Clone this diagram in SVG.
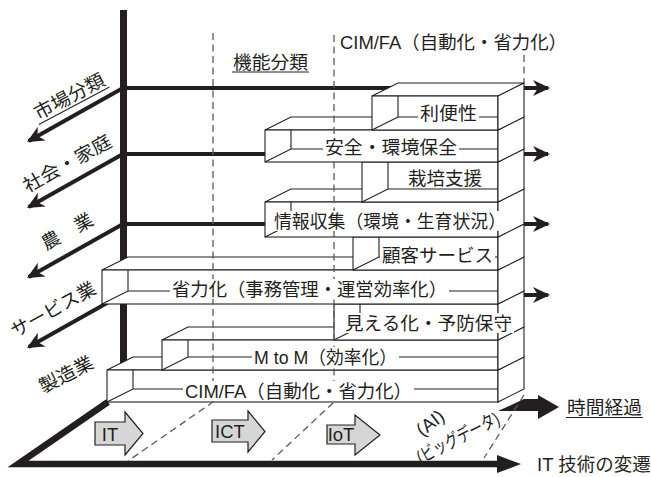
<svg xmlns="http://www.w3.org/2000/svg" width="651" height="477" viewBox="0 0 651 477">
<style>
text{font-family:"Liberation Sans","Noto Sans CJK JP",sans-serif;font-size:18.5px;fill:#231f20}
.face{fill:#fff;stroke:#231f20;stroke-width:1.1;stroke-linejoin:miter}
.ln{fill:none;stroke:#231f20;stroke-width:1.1}
.tbg{fill:#fff}
.thick{fill:none;stroke:#231f20;stroke-width:4}
.dash{fill:none;stroke:#5a5a5a;stroke-width:1.3;stroke-dasharray:7 4.5}
.blk{fill:#d6d6d6;stroke:#231f20;stroke-width:1.2}
</style>
<defs>
<marker id="ah" markerUnits="userSpaceOnUse" viewBox="-16 -9 18 18" markerWidth="18" markerHeight="18" refX="0" refY="0" orient="auto" overflow="visible">
<path d="M2,0 L-15,-8 L-10,0 L-15,8 Z" fill="#231f20"/>
</marker>
<mask id="dm" maskUnits="userSpaceOnUse" x="0" y="0" width="651" height="477">
<rect x="0" y="0" width="651" height="477" fill="#fff"/>
<rect x="323" y="137" width="136" height="20" fill="#000"/>
<rect x="272" y="211" width="236" height="20" fill="#000"/>
<rect x="170" y="279" width="279" height="20" fill="#000"/>
<rect x="252" y="347" width="147" height="20" fill="#000"/>
<rect x="183" y="381" width="231" height="20" fill="#000"/>
</mask>
</defs>
<rect width="651" height="477" fill="#fff"/>

<g id="connectors">
<line x1="123.5" y1="10" x2="123.5" y2="366" stroke="#231f20" stroke-width="7"/>
<line class="thick" x1="123" y1="88" x2="548" y2="88" marker-end="url(#ah)"/>
<line class="thick" x1="123" y1="154" x2="548" y2="154" marker-end="url(#ah)"/>
<line class="thick" x1="123" y1="224" x2="548" y2="224" marker-end="url(#ah)"/>
<line class="thick" x1="123" y1="295" x2="548" y2="295" marker-end="url(#ah)"/>
<line class="thick" x1="123" y1="88" x2="28.7" y2="141" marker-end="url(#ah)"/>
<line class="thick" x1="123" y1="154" x2="28.7" y2="207" marker-end="url(#ah)"/>
<line class="thick" x1="123" y1="224" x2="28.7" y2="277" marker-end="url(#ah)"/>
<line class="thick" x1="123" y1="294" x2="28.7" y2="347" marker-end="url(#ah)"/>
<polyline points="108,402 18,464 500,464" fill="none" stroke="#231f20" stroke-width="6.5" stroke-linejoin="miter"/>
<polygon points="497,455 521,464 497,473" fill="#231f20"/>
<polygon points="498,411 524,399 538,399 538,395 559,407 538,419 538,411" fill="#231f20"/>
</g>

<g id="n9-cim">
<polygon class="face" points="107,370 133,357 524,357 498,370"/>
<rect class="face" x="107" y="370" width="391" height="32"/>
<polygon class="face" points="498,370 524,357 524,389 498,402"/>
<path class="ln" d="M133,370 V389 M107,402 L133,389 H498"/>
<rect class="tbg" x="183" y="381" width="231" height="20"/>
<text x="185" y="398" textLength="227" lengthAdjust="spacingAndGlyphs">CIM/FA（自動化・省力化）</text>
</g>
<g id="n8-mtom">
<polygon class="face" points="162,340 188,327 524,327 498,340"/>
<rect class="face" x="162" y="340" width="336" height="30"/>
<polygon class="face" points="498,340 524,327 524,357 498,370"/>
<path class="ln" d="M188,340 V357 M162,370 L188,357 H498"/>
<rect class="tbg" x="252" y="347" width="147" height="20"/>
<text x="254" y="364" textLength="143" lengthAdjust="spacingAndGlyphs">M to M（効率化）</text>
</g>
<g id="n7-mieruka">
<polygon class="face" points="334,304 360,291 524,291 498,304"/>
<rect class="face" x="334" y="304" width="164" height="36"/>
<polygon class="face" points="498,304 524,291 524,327 498,340"/>
<path class="ln" d="M360,304 V327 M334,340 L360,327 H498"/>
<rect class="tbg" x="343" y="313" width="171" height="20"/>
<text x="345" y="330" textLength="167" lengthAdjust="spacingAndGlyphs">見える化・予防保守</text>
</g>
<g id="n6-shoryoku">
<polygon class="face" points="102,270 128,257 524,257 498,270"/>
<rect class="face" x="102" y="270" width="396" height="34"/>
<polygon class="face" points="498,270 524,257 524,291 498,304"/>
<path class="ln" d="M128,270 V291 M102,304 L128,291 H498"/>
<rect class="tbg" x="170" y="279" width="279" height="20"/>
<text x="172" y="296" textLength="275" lengthAdjust="spacingAndGlyphs">省力化（事務管理・運営効率化）</text>
</g>
<g id="n5-kokyaku">
<polygon class="face" points="353,237 379,224 524,224 498,237"/>
<rect class="face" x="353" y="237" width="145" height="33"/>
<polygon class="face" points="498,237 524,224 524,257 498,270"/>
<path class="ln" d="M379,237 V257 M353,270 L379,257 H498"/>
<rect class="tbg" x="380" y="245" width="115" height="20"/>
<text x="382" y="262" textLength="111" lengthAdjust="spacingAndGlyphs">顧客サービス</text>
</g>
<g id="n4-joho">
<polygon class="face" points="265,202 291,189 524,189 498,202"/>
<rect class="face" x="265" y="202" width="233" height="35"/>
<polygon class="face" points="498,202 524,189 524,224 498,237"/>
<path class="ln" d="M291,202 V224 M265,237 L291,224 H498"/>
<rect class="tbg" x="272" y="211" width="236" height="20"/>
<text x="274" y="228" textLength="232" lengthAdjust="spacingAndGlyphs">情報収集（環境・生育状況）</text>
</g>
<g id="n3-saibai">
<polygon class="face" points="362,162 388,149 524,149 498,162"/>
<rect class="face" x="362" y="162" width="136" height="40"/>
<polygon class="face" points="498,162 524,149 524,189 498,202"/>
<path class="ln" d="M388,162 V189 M362,202 L388,189 H498"/>
<text x="408" y="185" textLength="74" lengthAdjust="spacingAndGlyphs">栽培支援</text>
</g>
<g id="n2-anzen">
<polygon class="face" points="265,130 291,117 524,117 498,130"/>
<rect class="face" x="265" y="130" width="233" height="32"/>
<polygon class="face" points="498,130 524,117 524,149 498,162"/>
<path class="ln" d="M291,130 V149 M265,162 L291,149 H498"/>
<rect class="tbg" x="323" y="137" width="136" height="20"/>
<text x="325" y="154" textLength="132" lengthAdjust="spacingAndGlyphs">安全・環境保全</text>
</g>
<g id="n1-ribensei">
<polygon class="face" points="372,96 398,83 524,83 498,96"/>
<rect class="face" x="372" y="96" width="126" height="34"/>
<polygon class="face" points="498,96 524,83 524,117 498,130"/>
<path class="ln" d="M398,96 V117 M372,130 L398,117 H498"/>
<rect class="tbg" x="418" y="103" width="61" height="20"/>
<text x="420" y="120" textLength="57" lengthAdjust="spacingAndGlyphs">利便性</text>
</g>

<g id="guides" mask="url(#dm)">
<path class="dash" d="M213,33 V402 L128,461"/>
<path class="dash" d="M334,35 V402 L272,460"/>
<path class="dash" d="M524,55 V83"/>
<path class="dash" d="M524,395 L484,458"/>
</g>

<g id="floor-arrows">
<g id="a-it"><polygon class="blk" points="95,422 125,422 125,412 143,433.5 125,455 125,445 95,445"/><text x="110" y="441" text-anchor="middle" font-size="19">IT</text></g>
<g id="a-ict"><polygon class="blk" points="212,420 248,420 248,411 265,431.5 248,452 248,442 212,442"/><text x="230" y="438" text-anchor="middle" font-size="19">ICT</text></g>
<g id="a-iot"><polygon class="blk" points="327,425 355,425 355,415 380,435 355,455 355,444 327,444"/><text x="341" y="441" text-anchor="middle" font-size="19">IoT</text></g>
<text transform="translate(431,424) rotate(-38)" x="0" y="5" text-anchor="middle" font-size="14">(AI)</text>
<text transform="translate(459,440) rotate(-27)" x="0" y="4" text-anchor="middle" font-size="12.5" textLength="90" lengthAdjust="spacingAndGlyphs">(ビッグデータ)</text>
</g>

<g id="labels">
<text x="340" y="49" textLength="227" lengthAdjust="spacingAndGlyphs">CIM/FA（自動化・省力化）</text>
<text x="233" y="69" textLength="75" lengthAdjust="spacingAndGlyphs">機能分類</text>
<line x1="232" y1="72" x2="309" y2="72" stroke="#231f20" stroke-width="1"/>
<text x="567" y="414" textLength="75" lengthAdjust="spacingAndGlyphs">時間経過</text>
<line x1="566" y1="417.5" x2="643" y2="417.5" stroke="#231f20" stroke-width="1"/>
<text x="537" y="471">IT 技術の変遷</text>
<g transform="translate(69,96) rotate(-28)"><text x="0" y="7" text-anchor="middle" textLength="77" lengthAdjust="spacingAndGlyphs">市場分類</text><line x1="-40" y1="11" x2="40" y2="11" stroke="#231f20" stroke-width="1"/></g>
<text transform="translate(67,163) rotate(-29)" x="0" y="7" text-anchor="middle" textLength="98" lengthAdjust="spacingAndGlyphs">社会・家庭</text>
<text transform="translate(67,231) rotate(-29)" x="0" y="7" text-anchor="middle">農　業</text>
<text transform="translate(53,309) rotate(-29)" x="0" y="7" text-anchor="middle" textLength="94" lengthAdjust="spacingAndGlyphs">サービス業</text>
<text transform="translate(66,374) rotate(-27)" x="0" y="7" text-anchor="middle" textLength="58" lengthAdjust="spacingAndGlyphs">製造業</text>
</g>
</svg>
